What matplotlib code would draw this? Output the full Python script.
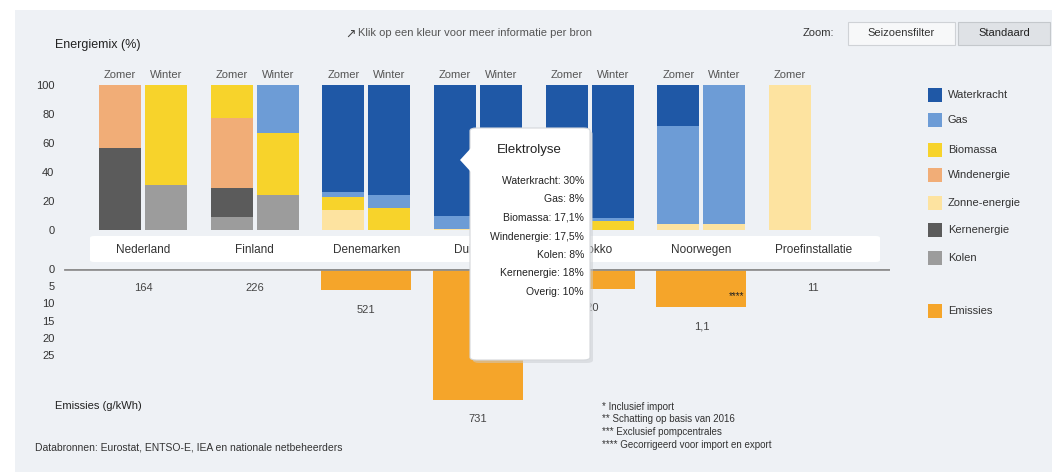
import matplotlib
matplotlib.use("Agg")
import matplotlib.pyplot as plt
from matplotlib.patches import Rectangle, FancyBboxPatch, Polygon
from matplotlib.transforms import blended_transform_factory
import numpy as np

plt.rcParams['font.family'] = ['Liberation Sans', 'DejaVu Sans']

# ---------------- data ----------------
countries = ["Nederland", "Finland", "Denemarken", "Duitsland", "Marokko", "Noorwegen", "Proefinstallatie"]
seasons = ["Zomer", "Winter"]
sources = ["Waterkracht", "Gas", "Biomassa", "Windenergie", "Zonne-energie", "Kernenergie", "Kolen"]
source_colors = ["#1f58a6", "#6d9cd6", "#f7d32b", "#f1ad77", "#fde3a0", "#5b5b5b", "#9c9c9c"]

# share (%) per source, per country, [Zomer, Winter]; None = no bar
mix_zomer = [
    [0, 0, 0, 43.5, 0, 56.5, 0],
    [0, 0, 23, 48, 0, 20, 9],
    [74, 3, 9, 0, 14, 0, 0],
    [90, 9, 0, 0, 1, 0, 0],
    [95, 2, 3, 0, 0, 0, 0],
    [28, 68, 0, 0, 4, 0, 0],
    [0, 0, 0, 0, 100, 0, 0],
]
mix_winter = [
    [0, 0, 69, 0, 0, 0, 31],
    [0, 33, 43, 0, 0, 0, 24],
    [76, 9, 15, 0, 0, 0, 0],
    [97, 3, 0, 0, 0, 0, 0],
    [92, 2, 6, 0, 0, 0, 0],
    [0, 96, 0, 0, 4, 0, 0],
    None,
]
emission_name = "Emissies"
emission_color = "#f5a52a"
emissions = [0, 0, 6.2, 38, 5.8, 11, 0]
emission_labels = ["164", "226", "521", "731", "520", "1,1", "11"]
emission_marks = ["", "", "", "", "", "****", ""]

top_ticks = [0, 20, 40, 60, 80, 100]
bottom_ticks = [0, 5, 10, 15, 20, 25]

tooltip_title = "Elektrolyse"
tooltip_lines = ["Waterkracht: 30%", "Gas: 8%", "Biomassa: 17,1%", "Windenergie: 17,5%",
                 "Kolen: 8%", "Kernenergie: 18%", "Overig: 10%"]

footnotes = ["* Inclusief import", "** Schatting op basis van 2016",
             "*** Exclusief pompcentrales", "**** Gecorrigeerd voor import en export"]
source_text = "Databronnen: Eurostat, ENTSO-E, IEA en nationale netbeheerders"

# ---------------- layout helpers ----------------
W, H = 1052, 472
fig = plt.figure(figsize=(W / 100, H / 100), dpi=100)
fig.patch.set_facecolor("white")

def fx(x):
    return x / W

def fy(y):
    return 1 - y / H

def rect_px(x0, y0, x1, y1, **kw):
    return Rectangle((fx(x0), fy(y1)), fx(x1) - fx(x0), fy(y0) - fy(y1),
                     transform=fig.transFigure, **kw)

# panel background
fig.patches.append(rect_px(15, 10, W, H, facecolor="#eef1f5", edgecolor="none", zorder=-10))

# axes
ax_left, ax_right = 60, 890
xlim = (-0.743, 6.688)
ax1 = fig.add_axes([fx(ax_left), fy(230), fx(ax_right) - fx(ax_left), fy(85) - fy(230)])
ax2 = fig.add_axes([fx(ax_left), fy(430), fx(ax_right) - fx(ax_left), fy(269) - fy(430)])
for ax in (ax1, ax2):
    ax.set_facecolor("none")
    for s in ax.spines.values():
        s.set_visible(False)
    ax.set_xlim(*xlim)
    ax.set_xticks([])
    ax.tick_params(axis="y", length=0, pad=4, labelsize=8, labelcolor="#333333")
ax1.set_ylim(0, 100)
ax1.set_yticks(top_ticks)
ax2.set_ylim(46.7, 0)
ax2.set_yticks(bottom_ticks)

x = np.arange(len(countries))
offset = 0.206
bw = 0.376

# stacked bars: stack from last source (bottom) to first (top)
for season_idx, mix in enumerate([mix_zomer, mix_winter]):
    xs = x + (-offset if season_idx == 0 else offset)
    bottoms = np.zeros(len(countries))
    for s_idx in range(len(sources) - 1, -1, -1):
        vals = np.array([m[s_idx] if m is not None else 0 for m in mix], dtype=float)
        ax1.bar(xs, vals, bw, bottom=bottoms, color=source_colors[s_idx], linewidth=0)
        bottoms += vals

# season labels
bt1 = blended_transform_factory(ax1.transData, fig.transFigure)
for i in range(len(countries)):
    fig.text(x[i] - offset, fy(75), seasons[0], transform=bt1, ha="center", va="center",
             fontsize=8, color="#555555")
    if mix_winter[i] is not None:
        fig.text(x[i] + offset, fy(75), seasons[1], transform=bt1, ha="center", va="center",
                 fontsize=8, color="#555555")

# country band
fig.patches.append(FancyBboxPatch((fx(90), fy(262)), fx(880) - fx(90), fy(236) - fy(262),
                                  boxstyle="round,pad=0,rounding_size=0.004",
                                  transform=fig.transFigure, facecolor="white",
                                  edgecolor="none", zorder=1))
for i, c in enumerate(countries):
    fig.text(x[i], fy(250), c, transform=bt1, ha="center", va="center", fontsize=8.5,
             color="#333333", zorder=2)

# emission bars
ax2.axhline(0, xmin=0.006, xmax=1.0, color="#8f8f8f", lw=2, zorder=3)
ax2.bar(x, emissions, 0.806, color=emission_color, linewidth=0, zorder=2)
for i in range(len(countries)):
    ax2.annotate(emission_labels[i], (x[i], emissions[i]), xytext=(0, -14),
                 textcoords="offset points", ha="center", va="center", fontsize=8,
                 color="#444444", annotation_clip=False)
    if emission_marks[i]:
        ax2.annotate(emission_marks[i], (x[i] + 0.38, emissions[i]), xytext=(0, 4),
                     textcoords="offset points", ha="right", va="bottom", fontsize=7,
                     color="#222222", annotation_clip=False)

# axis titles
fig.text(fx(55), fy(45), "Energiemix (%)", ha="left", va="center", fontsize=9, color="#222222")
fig.text(fx(55), fy(406), "Emissies (g/kWh)", ha="left", va="center", fontsize=8, color="#222222")
fig.text(fx(35), fy(448), source_text, ha="left", va="center", fontsize=7.5, color="#333333")

# title / hint
fig.text(fx(345), fy(35), "\u2197", ha="left", va="center", fontsize=9, color="#444444")
fig.text(fx(358), fy(33), "Klik op een kleur voor meer informatie per bron", ha="left",
         va="center", fontsize=8, color="#555555")

# zoom buttons
fig.text(fx(803), fy(33), "Zoom:", ha="left", va="center", fontsize=8, color="#333333")
fig.patches.append(rect_px(848, 22, 955, 45, facecolor="#f7f8f9", edgecolor="#cfd2d6", lw=0.8))
fig.text(fx(901), fy(33), "Seizoensfilter", ha="center", va="center", fontsize=8, color="#333333")
fig.patches.append(rect_px(958, 22, 1050, 45, facecolor="#dfe2e6", edgecolor="#c4c8cc", lw=0.8))
fig.text(fx(1004), fy(33), "Standaard", ha="center", va="center", fontsize=8, color="#222222")

# legend
legend_y = [95, 120, 150, 175, 203, 230, 258]
for name, col, yy in zip(sources, source_colors, legend_y):
    fig.patches.append(rect_px(928, yy - 7, 942, yy + 7, facecolor=col, edgecolor="none"))
    fig.text(fx(948), fy(yy), name, ha="left", va="center", fontsize=8, color="#333333")
fig.patches.append(rect_px(928, 304, 942, 318, facecolor=emission_color, edgecolor="none"))
fig.text(fx(948), fy(311), emission_name, ha="left", va="center", fontsize=8, color="#333333")

# footnotes
for i, t in enumerate(footnotes):
    fig.text(fx(602), fy(407 + 12.5 * i), t, ha="left", va="center", fontsize=7, color="#333333")

# tooltip
fig.patches.append(FancyBboxPatch((fx(473), fy(363)), fx(593) - fx(473), fy(131) - fy(363),
                                  boxstyle="round,pad=0,rounding_size=0.006",
                                  transform=fig.transFigure, facecolor="#c9ccd0",
                                  edgecolor="none", alpha=0.5, zorder=9))
fig.patches.append(FancyBboxPatch((fx(470), fy(360)), fx(590) - fx(470), fy(128) - fy(360),
                                  boxstyle="round,pad=0,rounding_size=0.006",
                                  transform=fig.transFigure, facecolor="white",
                                  edgecolor="#d4d7db", lw=0.8, zorder=10))
fig.patches.append(Polygon([(fx(471), fy(148)), (fx(460), fy(160)), (fx(471), fy(172))],
                           closed=True, transform=fig.transFigure, facecolor="white",
                           edgecolor="none", zorder=11))
fig.text(fx(529), fy(150), tooltip_title, ha="center", va="center", fontsize=9.5,
         color="#222222", zorder=12)
for i, t in enumerate(tooltip_lines):
    fig.text(fx(584), fy(181 + 18.5 * i), t, ha="right", va="center", fontsize=7.5,
             color="#222222", zorder=12)

fig.savefig("out.png", dpi=100)
